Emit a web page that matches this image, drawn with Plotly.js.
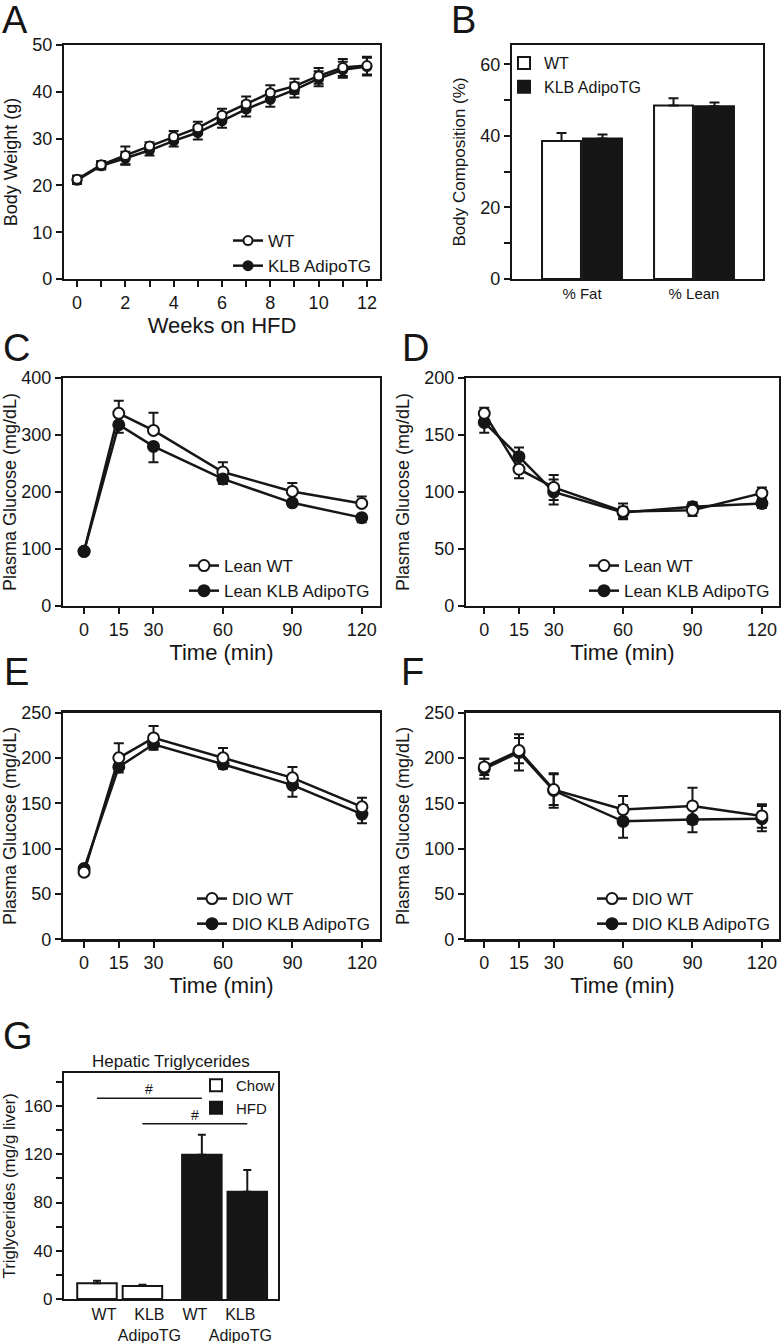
<!DOCTYPE html>
<html><head><meta charset="utf-8">
<script src="https://cdn.plot.ly/plotly-3.0.1.min.js"></script>
<style>html,body{margin:0;padding:0;background:#fff}#chart{width:782px;height:1343px}</style>
</head><body><div id="chart"></div>
<script>
// ---------- Panel A: body weight ----------
const weeks = [0,1,2,3,4,5,6,7,8,9,10,11,12];
const bwWT = [21.3,24.4,26.4,28.4,30.4,32.3,35.0,37.4,39.8,41.2,43.4,45.2,45.6];
const bwWTerr = [0.8,0.8,1.9,0.8,1.2,1.3,1.4,1.6,1.6,1.6,1.7,1.8,1.9];
const bwKLB = [21.1,24.2,25.8,27.5,29.5,31.3,33.8,36.3,38.4,40.4,42.8,44.7,45.4];
const bwKLBerr = [0.8,0.8,1.4,1.1,1.2,1.5,1.5,1.6,1.6,1.6,1.6,1.7,1.9];

// ---------- Panel B: body composition ----------
const compCats = ['% Fat','% Lean'];
const compWT = [38.6,48.5];
const compWTerr = [2.2,2.0];
const compKLB = [39.3,48.3];
const compKLBerr = [1.1,1.0];

// ---------- Panels C-F: glucose / insulin tolerance ----------
const times = [0,15,30,60,90,120];
const timeTicks = [0,15,30,60,90,120];
const cWT = [96,338,308,235,201,180];
const cWTerr = [4,22,31,17,15,12];
const cKLB = [96,318,280,223,181,155];
const cKLBerr = [4,14,28,9,5,8];

const dWT = [169,120,104,83,84,99];
const dWTerr = [5,8,11,7,5,5];
const dKLB = [161,131,100,82,87,90];
const dKLBerr = [9,8,11,5,4,4];

const eWT = [74,200,222,200,178,146];
const eWTerr = [4,16,13,11,12,10];
const eKLB = [78,190,215,193,170,138];
const eKLBerr = [3,6,6,5,13,10];

const fWT = [190,208,165,143,147,136];
const fWTerr = [9,14,17,15,20,13];
const fKLB = [188,206,164,130,132,133];
const fKLBerr = [11,20,19,18,14,14];

// ---------- Panel G: hepatic triglycerides ----------
const gChowCats = ['Chow WT','Chow KLB AdipoTG'];
const gHfdCats = ['HFD WT','HFD KLB AdipoTG'];
const gTickLabels = ['WT','KLB<br>AdipoTG','WT','KLB<br>AdipoTG'];
const tgChow = [13.0,10.8];
const tgChowErr = [2.2,1.1];
const tgHfd = [119.6,89.0];
const tgHfdErr = [16.6,18.0];

// ---------- helpers ----------
const W = 782, H = 1343;
const FONT = 'Liberation Sans, Arial, Helvetica, sans-serif';
const INK = '#161616';
const px = v => v / W;
const py = v => 1 - v / H;

function lineTrace(x, y, errUp, errDown, name, filled, xa, ya, leg, rank, msize) {
  const err = errDown === null
    ? {type:'data', array: errUp, visible:true, color:INK, thickness:2, width:5}
    : {type:'data', symmetric:false, array: errUp, arrayminus: errDown, visible:true, color:INK, thickness:2, width:5};
  return {
    type:'scatter', mode:'lines+markers', x, y, name,
    xaxis: xa, yaxis: ya, legend: leg, legendrank: rank,
    line:{color:INK, width:2.5},
    marker:{symbol:'circle', size: msize, color: filled ? INK : '#ffffff', line:{color:INK, width:2}},
    error_y: err, cliponaxis:false
  };
}

function axis(dom, range, anchor, extra) {
  return Object.assign({
    domain: dom, range, anchor, showline:true, mirror:true, linewidth:2.2, linecolor:INK,
    ticks:'outside', ticklen:6, tickwidth:2, tickcolor:INK, showgrid:false, zeroline:false,
    tickfont:{family:FONT, size:18, color:INK}, fixedrange:true, automargin:false, tickangle:0
  }, extra || {});
}
function ttl(text, size, standoff) {
  return {text, font:{family:FONT, size, color:INK}, standoff};
}
function legendAt(lx, ly, size) {
  return {x: px(lx), y: py(ly), xanchor:'left', yanchor:'top', bgcolor:'rgba(0,0,0,0)',
          borderwidth:0, font:{family:FONT, size, color:INK}, itemwidth:30,
          tracegroupgap:0, traceorder:'normal'};
}

const traces = [
  // A
  lineTrace(weeks, bwKLB, bwKLBerr, null, 'KLB AdipoTG', true, 'x', 'y', 'legend', 2, 9),
  lineTrace(weeks, bwWT, bwWTerr, null, 'WT', false, 'x', 'y', 'legend', 1, 9),
  // B
  {type:'bar', x: compCats, y: compWT, name:'WT', xaxis:'x2', yaxis:'y2', legend:'legend2',
   marker:{color:'#ffffff', line:{color:INK, width:2}},
   error_y:{type:'data', symmetric:false, array: compWTerr, arrayminus:[0,0], color:INK, thickness:2, width:5}},
  {type:'bar', x: compCats, y: compKLB, name:'KLB AdipoTG', xaxis:'x2', yaxis:'y2', legend:'legend2',
   marker:{color:INK, line:{color:INK, width:2}},
   error_y:{type:'data', symmetric:false, array: compKLBerr, arrayminus:[0,0], color:INK, thickness:2, width:5}},
  // C
  lineTrace(times, cWT, cWTerr, [0,0,0,0,0,0], 'Lean WT', false, 'x3', 'y3', 'legend3', 1, 11),
  lineTrace(times, cKLB, [0,0,0,0,0,0], cKLBerr, 'Lean KLB AdipoTG', true, 'x3', 'y3', 'legend3', 2, 11),
  // D
  lineTrace(times, dKLB, dKLBerr, null, 'Lean KLB AdipoTG', true, 'x4', 'y4', 'legend4', 2, 11),
  lineTrace(times, dWT, dWTerr, null, 'Lean WT', false, 'x4', 'y4', 'legend4', 1, 11),
  // E
  lineTrace(times, eKLB, [0,0,0,0,0,0], eKLBerr, 'DIO KLB AdipoTG', true, 'x5', 'y5', 'legend5', 2, 11),
  lineTrace(times, eWT, eWTerr, [0,0,0,0,0,0], 'DIO WT', false, 'x5', 'y5', 'legend5', 1, 11),
  // F
  lineTrace(times, fKLB, fKLBerr, null, 'DIO KLB AdipoTG', true, 'x6', 'y6', 'legend6', 2, 11),
  lineTrace(times, fWT, fWTerr, null, 'DIO WT', false, 'x6', 'y6', 'legend6', 1, 11),
  // G
  {type:'bar', x: gChowCats, y: tgChow, name:'Chow', xaxis:'x7', yaxis:'y7', legend:'legend7',
   width:0.87, offset:-0.589,
   marker:{color:'#ffffff', line:{color:INK, width:2}},
   error_y:{type:'data', symmetric:false, array: tgChowErr, arrayminus:[0,0], color:INK, thickness:2, width:4}},
  {type:'bar', x: gHfdCats, y: tgHfd, name:'HFD', xaxis:'x7', yaxis:'y7', legend:'legend7',
   width:0.87, offset:-0.281,
   marker:{color:INK, line:{color:INK, width:2}},
   error_y:{type:'data', symmetric:false, array: tgHfdErr, arrayminus:[0,0], color:INK, thickness:2, width:4}}
];

const domA = {x:[px(64), px(380)], y:[py(279), py(45)]};
const domB = {x:[px(512), px(763)], y:[py(279), py(45)]};
const domC = {x:[px(63), px(380)], y:[py(606), py(378)]};
const domD = {x:[px(466), px(779)], y:[py(606), py(378)]};
const domE = {x:[px(63), px(380)], y:[py(939.3), py(712.5)]};
const domF = {x:[px(466), px(779)], y:[py(939.3), py(712.5)]};
const domG = {x:[px(64), px(278)], y:[py(1299), py(1072.7)]};

const yTitleGlu = 'Plasma Glucose (mg/dL)';
const xTitleTime = 'Time (min)';

function letter(t, lx, ly) {
  return {text:t, x: px(lx), y: py(ly), xref:'paper', yref:'paper', xanchor:'left', yanchor:'middle',
          showarrow:false, font:{family:FONT, size:38, color:INK}};
}

const layout = {
  width: W, height: H, margin:{l:0, r:0, t:0, b:0},
  paper_bgcolor:'#ffffff', plot_bgcolor:'#ffffff',
  font:{family:FONT, color:INK},
  barmode:'group', bargap:0.268, bargroupgap:0.05,
  showlegend:true,
  // A
  xaxis: axis(domA.x, [-0.54, 12.54], 'y', {dtick:2, tick0:0, minor:{dtick:1, ticks:'outside', ticklen:6, tickwidth:2, tickcolor:INK},
          title: ttl('Weeks on HFD', 22, 0)}),
  yaxis: axis(domA.y, [0, 50], 'x', {dtick:10, title: ttl('Body Weight (g)', 18, 10)}),
  // B
  xaxis2: axis(domB.x, [-0.625, 1.616], 'y2', {ticks:'', tickfont:{family:FONT, size:15, color:INK}}),
  yaxis2: axis(domB.y, [0, 65.4], 'x2', {dtick:20, minor:{dtick:10, ticks:'outside', ticklen:6, tickwidth:2, tickcolor:INK},
          title: ttl('Body Composition (%)', 17, 10)}),
  // C
  xaxis3: axis(domC.x, [-9.1, 127.9], 'y3', {tickmode:'array', tickvals: timeTicks, title: ttl(xTitleTime, 22, 0)}),
  yaxis3: axis(domC.y, [0, 400], 'x3', {dtick:100, title: ttl(yTitleGlu, 18, 10)}),
  // D
  xaxis4: axis(domD.x, [-7.9, 127.4], 'y4', {tickmode:'array', tickvals: timeTicks, title: ttl(xTitleTime, 22, 0)}),
  yaxis4: axis(domD.y, [0, 200], 'x4', {dtick:50, title: ttl(yTitleGlu, 18, 10)}),
  // E
  xaxis5: axis(domE.x, [-9.1, 127.8], 'y5', {tickmode:'array', tickvals: timeTicks, title: ttl(xTitleTime, 22, 0)}),
  yaxis5: axis(domE.y, [0, 250], 'x5', {dtick:50, title: ttl(yTitleGlu, 18, 10)}),
  // F
  xaxis6: axis(domF.x, [-7.9, 127.4], 'y6', {tickmode:'array', tickvals: timeTicks, title: ttl(xTitleTime, 22, 0)}),
  yaxis6: axis(domF.y, [0, 250], 'x6', {dtick:50, title: ttl(yTitleGlu, 18, 10)}),
  // G
  xaxis7: axis(domG.x, [-0.88, 3.83], 'y7', {type:'category', ticks:'', categoryorder:'array',
          categoryarray: gChowCats.concat(gHfdCats), tickmode:'array', tickvals: gChowCats.concat(gHfdCats),
          ticktext: gTickLabels, tickfont:{family:FONT, size:16, color:INK}}),
  yaxis7: axis(domG.y, [0, 187.6], 'x7', {dtick:40, tickfont:{family:FONT, size:17, color:INK},
          minor:{dtick:20, ticks:'outside', ticklen:6, tickwidth:2, tickcolor:INK},
          title: ttl('Triglycerides (mg/g liver)', 17, 8)}),

  legend: legendAt(228, 223, 17),
  legend2: legendAt(504, 46, 16),
  legend3: legendAt(184, 548, 17),
  legend4: legendAt(584, 548, 17),
  legend5: legendAt(192, 881, 17),
  legend6: legendAt(592, 881, 17),
  legend7: legendAt(196, 1069, 15),

  shapes: [
    {type:'line', xref:'x7', yref:'y7', x0:-0.154, x1:2.154, y0:166.4, y1:166.4, line:{color:INK, width:1.5}},
    {type:'line', xref:'x7', yref:'y7', x0:0.846, x1:3.154, y0:145.2, y1:145.2, line:{color:INK, width:1.5}}
  ],
  annotations: [
    letter('A', 0, 20), letter('B', 449, 20), letter('C', 1, 348), letter('D', 400, 348),
    letter('E', 2, 672), letter('F', 399, 672), letter('G', 1, 1036),
    {text:'Hepatic Triglycerides', x: px(171), y: py(1061), xref:'paper', yref:'paper', xanchor:'center', yanchor:'middle',
     showarrow:false, font:{family:FONT, size:17, color:INK}},
    {text:'#', x:1, y:166.4, xref:'x7', yref:'y7', xanchor:'center', yanchor:'bottom', yshift:-1,
     showarrow:false, font:{family:FONT, size:14, color:INK}},
    {text:'#', x:2, y:145.2, xref:'x7', yref:'y7', xanchor:'center', yanchor:'bottom', yshift:-1,
     showarrow:false, font:{family:FONT, size:14, color:INK}}
  ]
};

Plotly.newPlot('chart', traces, layout, {displayModeBar:false, staticPlot:true});
</script>
</body></html>
